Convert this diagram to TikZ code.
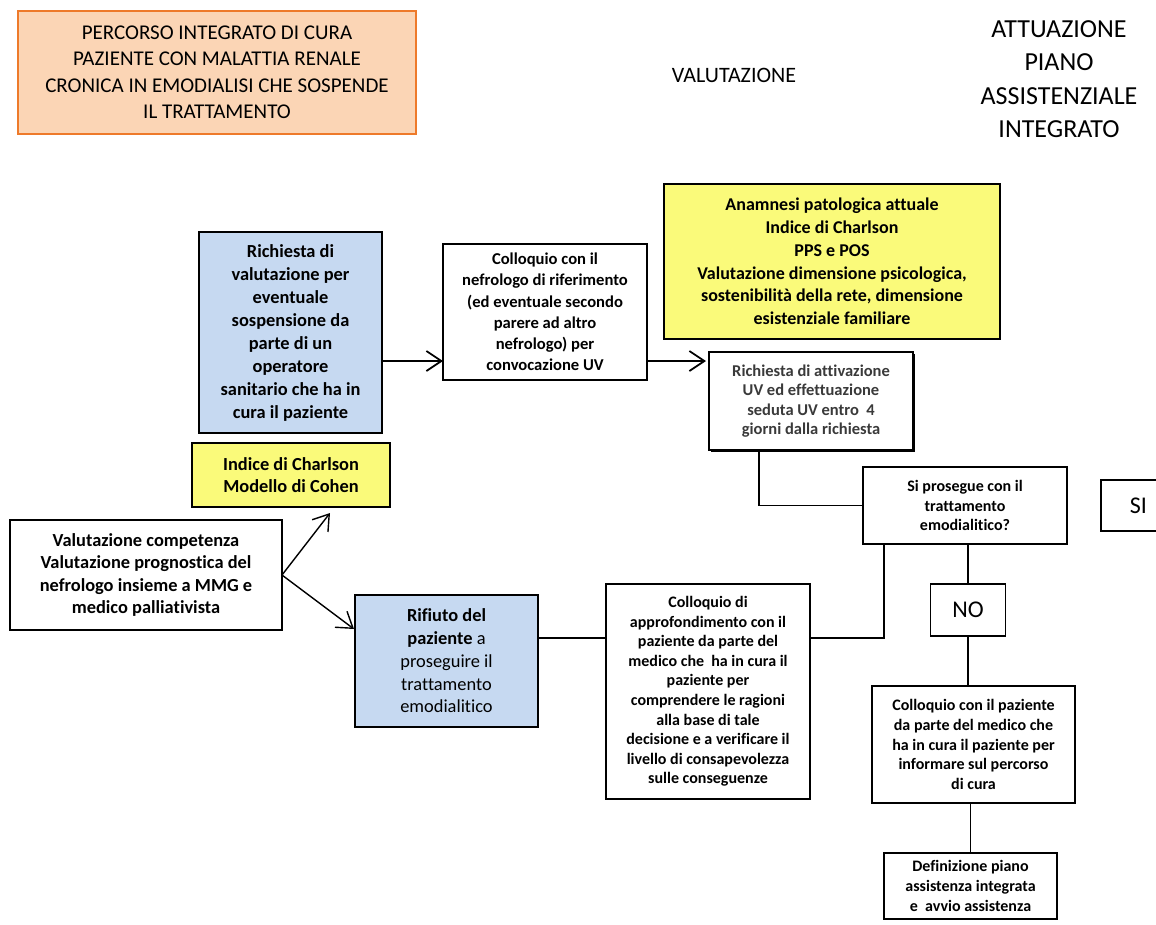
\documentclass[tikz,border=0pt]{standalone}
\usepackage{fontspec}
\setmainfont{Carlito}[Ligatures=NoCommon]
\usetikzlibrary{arrows.meta, positioning, calc, shadows}
\definecolor{pcblue}{HTML}{C6D9F1}
\definecolor{pcyellow}{HTML}{FAFA7A}
\definecolor{pcpeach}{HTML}{FBD5B5}
\definecolor{pcorange}{HTML}{EE7A2A}
\definecolor{pcgray}{HTML}{3A3A3A}

\begin{document}
\begin{tikzpicture}[x=1pt, y=-1pt,
  every node/.style={inner sep=2pt, outer sep=0pt, align=center},
  pbox/.style={rectangle, draw=black, line width=1.8pt, fill=white, font=\fontsize{16}{19.6}\selectfont\bfseries},
  bbox/.style={rectangle, draw=black, line width=1.8pt, fill=pcblue, font=\fontsize{18.4}{23}\selectfont},
  ybox/.style={rectangle, draw=black, line width=1.8pt, fill=pcyellow, font=\fontsize{18.4}{22.7}\selectfont\bfseries},
  tbox/.style={rectangle, draw=pcorange, line width=1.6pt, fill=pcpeach, font=\fontsize{21}{26.5}\selectfont},
  abox/.style={rectangle, draw=black, line width=1.8pt, fill=white, font=\fontsize{24}{28}\selectfont},
  hlbl/.style={font=\fontsize{22}{26}\selectfont},
  link/.style={line width=1.8pt},
]
\useasboundingbox (0,0) rectangle (1156,924);

% Headings
\node[tbox, minimum width=398, minimum height=123] (title) at (217,72.5) {PERCORSO INTEGRATO DI CURA\\PAZIENTE CON MALATTIA RENALE\\CRONICA IN EMODIALISI CHE SOSPENDE\\IL TRATTAMENTO};
\node[hlbl] (valut) at (734,75) {VALUTAZIONE};
\node[hlbl, font=\fontsize{26}{33.3}\selectfont] (attua) at (1059,79) {ATTUAZIONE\\PIANO\\ASSISTENZIALE\\INTEGRATO};

% Request and nephrologist
\node[bbox, font=\fontsize{18.4}{23}\selectfont\bfseries, minimum width=183, minimum height=201] (req) at (290.5,332.5) {Richiesta di\\valutazione per\\eventuale\\sospensione da\\parte di un\\operatore\\sanitario che ha in\\cura il paziente};
\node[pbox, font=\fontsize{16.6}{21.2}\selectfont\bfseries, minimum width=204, minimum height=136] (neph) at (545,312) {Colloquio con il\\nefrologo di riferimento\\(ed eventuale secondo\\parere ad altro\\nefrologo) per\\convocazione UV};
\node[ybox, font=\fontsize{18}{22.8}\selectfont\bfseries, minimum width=336, minimum height=155] (anam) at (832,261.5) {Anamnesi patologica attuale\\Indice di Charlson\\PPS e POS\\Valutazione dimensione psicologica,\\sostenibilità della rete, dimensione\\esistenziale familiare};
\node[pbox, font=\fontsize{16.5}{19.4}\selectfont\bfseries\color{pcgray}, drop shadow={shadow xshift=1.6pt, shadow yshift=-1.6pt, fill=black, opacity=1}, minimum width=204, minimum height=98] (uvreq) at (811,401) {Richiesta di attivazione\\UV ed effettuazione\\seduta UV entro~~4\\giorni dalla richiesta};

% Assessment
\node[ybox, minimum width=198, minimum height=64] (charl) at (291,475) {Indice di Charlson\\Modello di Cohen};
\node[pbox, font=\fontsize{18.4}{22.4}\selectfont\bfseries, minimum width=272, minimum height=110] (comp) at (146,575) {Valutazione competenza\\Valutazione prognostica del\\nefrologo insieme a MMG e\\medico palliativista};
\node[bbox, font=\fontsize{18.4}{22.7}\selectfont, minimum width=183, minimum height=132] (refusal) at (446.5,661) {\textbf{Rifiuto del}\\\textbf{paziente} a\\proseguire il\\trattamento\\emodialitico};
\node[pbox, minimum width=204, minimum height=215] (deep) at (708,691.5) {Colloquio di\\approfondimento con il\\paziente da parte del\\medico che~ ha in cura il\\paziente per\\comprendere le ragioni\\alla base di tale\\decisione e a verificare il\\livello di consapevolezza\\sulle conseguenze};

% Decision
\node[pbox, minimum width=204, minimum height=77] (cont) at (965,505.5) {Si prosegue con il\\trattamento\\emodialitico?};
\node[abox, minimum width=75, minimum height=51] (si) at (1138.5,505.5) {SI};
\node[abox, minimum width=75, minimum height=52] (no) at (968,610) {NO};
\node[pbox, minimum width=203, minimum height=117] (inform) at (973.5,744.5) {Colloquio con il paziente\\da parte del medico che\\ha in cura il paziente per\\informare sul percorso\\di cura};
\node[pbox, minimum width=173, minimum height=66] (plan) at (970.5,886) {Definizione piano\\assistenza integrata\\e~ avvio assistenza};

% Helper points
\coordinate (a1) at ($(req.east)+(0,28.5)$);
\coordinate (charltip) at ($(charl.south)+(39,6)$);
\coordinate (reftip) at ($(refusal.north west)+(-1,34)$);
\coordinate (uvdrop) at ($(uvreq.south)+(-52,0)$);
\coordinate (refout) at ($(refusal.east)+(0,-23)$);
\coordinate (contin) at ($(cont.south west)+(21,0)$);

% Connections
\draw[link, -{Straight Barb[length=15pt, width=20pt]}] (a1) -- (a1 -| neph.west);
\draw[link, -{Straight Barb[length=15pt, width=20pt]}] (neph.east |- a1) -- ($(uvreq.west |- a1)+(-3,0)$);
\draw[link, line width=1.4pt, -{Straight Barb[length=15pt, width=20pt]}] (comp.east) -- (charltip);
\draw[link, line width=1.4pt, -{Straight Barb[length=15pt, width=20pt]}] (comp.east) -- (reftip);
\draw[link] (uvdrop) |- (cont.west);
\draw[link] (refout) -- (refout -| deep.west);
\draw[link, line width=2.6pt] (refout -| deep.east) -| (contin);
\draw[link] (no.north) -- (no.north |- cont.south);
\draw[link] (no.south) -- (no.south |- inform.north);
\draw[link] (plan.north) -- (plan.north |- inform.south);

\end{tikzpicture}
\end{document}
